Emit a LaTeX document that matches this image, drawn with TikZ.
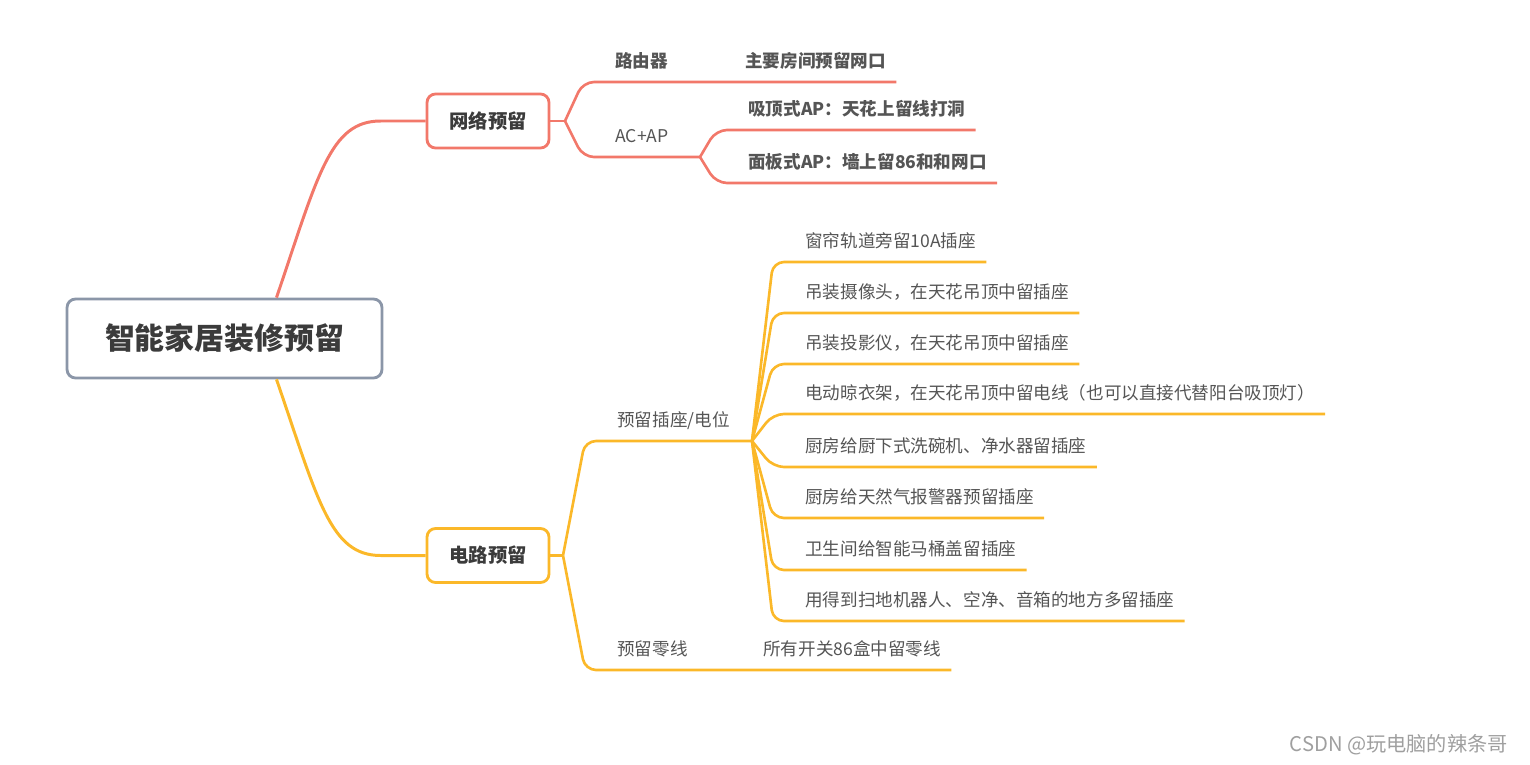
\documentclass[tikz,border=0pt]{standalone}
\usepackage{fontspec}
\setmainfont{Noto Sans CJK SC}
\usetikzlibrary{calc,positioning}
\definecolor{rojo}{HTML}{F2786A}
\definecolor{naranja}{HTML}{FBB829}
\definecolor{gris}{HTML}{8B96A8}
\definecolor{texto}{HTML}{555555}
\tikzset{
  raiz/.style={draw=gris,line width=1.6pt,rounded corners=0.17cm,fill=white,minimum width=6.3cm,minimum height=1.58cm,font=\bfseries\fontsize{17}{20}\selectfont,text=texto!70!black},
  rama/.style={line width=1.6pt,rounded corners=0.17cm,fill=white,minimum width=2.44cm,minimum height=1.08cm,font=\bfseries\fontsize{11}{13}\selectfont,text=texto!70!black},
  hoja/.style={anchor=south west,inner xsep=0.2cm,inner ysep=0pt,text depth=8.3pt,text=texto,font=\fontsize{10}{12}\selectfont},
  negrita/.style={font=\bfseries\fontsize{10}{12}\selectfont},
  linearoja/.style={draw=rojo,line width=1.5pt,rounded corners=0.22cm},
  lineanaranja/.style={draw=naranja,line width=1.5pt,rounded corners=0.22cm},
  conector/.style={line width=1.7pt}
}
\begin{document}
\begin{tikzpicture}[x=0.02cm,y=-0.02cm]
\useasboundingbox (0,0) rectangle (1530,764);
% nodo central y ramas
\node[raiz] (raiz) at (224.5,338.5) {智能家居装修预留};
\node[rama,draw=rojo] (red) at (488,121) {网络预留};
\node[rama,draw=naranja] (elec) at (488,555.5) {电路预留};
\draw[draw=rojo,conector] ($(raiz.north)+(52,0)$) .. controls (318,175) and (330,121) .. ($(red.west)+(-45,0)$) -- (red.west);
\draw[draw=naranja,conector] ($(raiz.south)+(52,0)$) .. controls (318,500) and (330,555.5) .. ($(elec.west)+(-45,0)$) -- (elec.west);
% red
\coordinate (f1) at (565,121);
\coordinate (f3) at (700,157);
\node[hoja,negrita] (router) at (605,82) {路由器};
\node[hoja] (acap) at (605,157) {AC+AP};
\node[hoja,negrita] (r1) at (735,82) {主要房间预留网口};
\node[hoja,negrita] (r2) at (738,130) {吸顶式AP：天花上留线打洞};
\node[hoja,negrita] (r3) at (738,183) {面板式AP：墙上留86和和网口};
\draw[linearoja] (red.east) -- (f1);
\draw[linearoja] (f1) -- ($(router.south west)+(-22,0)$) -- (router.south west) -- (r1.south east);
\draw[linearoja] (f1) -- ($(acap.south west)+(-22,0)$) -- (f3);
\draw[linearoja] (f3) -- ($(r2.south west)+(-22,0)$) -- (r2.south east);
\draw[linearoja] (f3) -- ($(r3.south west)+(-22,0)$) -- (r3.south east);
% electricidad
\coordinate (f2) at (563,555.5);
\coordinate (f4) at (752,441);
\node[hoja] (enchufe) at (607,441) {预留插座/电位};
\node[hoja] (neutro) at (607,670) {预留零线};
\node[hoja] (n1) at (753,670) {所有开关86盒中留零线};
\draw[lineanaranja] (elec.east) -- (f2);
\draw[lineanaranja] (f2) -- ($(enchufe.south west)+(-22,0)$) -- (enchufe.south west) -- (f4);
\draw[lineanaranja] (f2) -- ($(neutro.south west)+(-22,0)$) -- (neutro.south west) -- (n1.south east);
\foreach \i/\yy/\txt in {1/262/窗帘轨道旁留10A插座,2/313/吊装摄像头，在天花吊顶中留插座,3/364/吊装投影仪，在天花吊顶中留插座,4/414/电动晾衣架，在天花吊顶中留电线（也可以直接代替阳台吸顶灯）,5/467/厨房给厨下式洗碗机、净水器留插座,6/518/厨房给天然气报警器预留插座,7/570/卫生间给智能马桶盖留插座,8/621/用得到扫地机器人、空净、音箱的地方多留插座}{
  \node[hoja] (o\i) at (795,\yy) {\txt};
  \draw[lineanaranja] (f4) -- ($(o\i.south west)+(-22,0)$) -- (o\i.south east);
}
\node[anchor=east,text=gray!75,font=\fontsize{11.5}{14}\selectfont] (marca) at (1514,745) {CSDN @玩电脑的辣条哥};
\end{tikzpicture}
\end{document}
